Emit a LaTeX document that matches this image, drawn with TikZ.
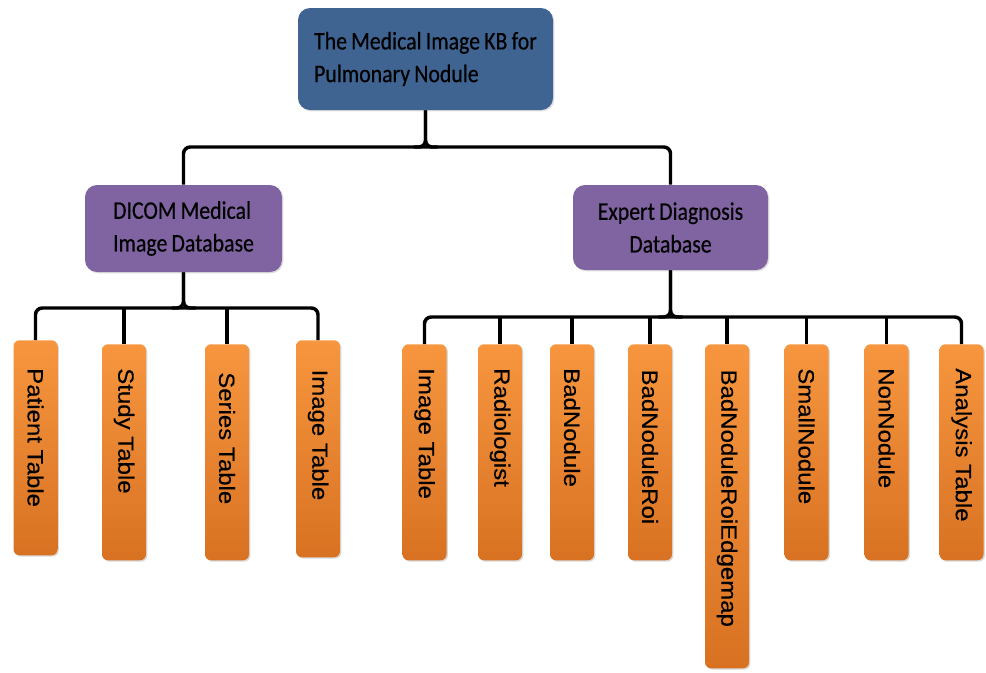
\documentclass[tikz,border=0pt]{standalone}
\usepackage{fontspec}
\setmainfont{Carlito}
\newfontfamily\hdfont[FakeStretch=0.86,FakeBold=0.4,WordSpace=0.85]{Carlito}
\newfontfamily\boxfont[FakeStretch=1.09,FakeBold=0.4]{Liberation Sans}
\usetikzlibrary{shadows}
\definecolor{kbblue}{HTML}{3F6491}
\definecolor{kbpurple}{HTML}{8064A2}
\definecolor{ortop}{HTML}{F7963F}
\definecolor{orbot}{HTML}{D87222}
\begin{document}
\begin{tikzpicture}[x=0.75pt,y=-0.75pt,
  conn/.style={line width=2.6pt, black, rounded corners=5pt},
  headbox/.style={rounded corners=9pt, text=black,
    font=\hdfont\fontsize{19}{24.5}\selectfont,
    drop shadow={opacity=0.25, shadow xshift=1pt, shadow yshift=-1pt}},
  leaf/.style={rounded corners=4.5pt, top color=ortop, bottom color=orbot,
    minimum width=33pt, inner sep=0pt, anchor=north,
    drop shadow={opacity=0.3, shadow xshift=1pt, shadow yshift=-1pt}},
  leaftext/.style={font=\boxfont\fontsize{16.5}{20}\selectfont, text=black,
    rotate=-90, anchor=west, inner sep=0pt}
]
\useasboundingbox (0,0) rectangle (986,672);

% top level
\node[headbox, fill=kbblue, minimum width=191.25pt, minimum height=76.5pt,
  align=left]
  (top) at (425.5,59) {The Medical Image KB for\\Pulmonary Nodule};

\node[headbox, fill=kbpurple, minimum width=147.75pt, minimum height=65.25pt,
  align=left]
  (dicom) at (183.5,228.5) {DICOM Medical\\Image Database};

\node[headbox, fill=kbpurple, minimum width=146.25pt, minimum height=63.75pt,
  align=center]
  (expert) at (670.5,227.5) {Expert Diagnosis\\Database};

% leaves left
\node[leaf, minimum height=161.25pt] (p1) at (35.5,340) {};
\node[leaf, minimum height=162pt] (p2) at (124,344) {};
\node[leaf, minimum height=162pt] (p3) at (227,344) {};
\node[leaf, minimum height=162.75pt] (p4) at (318,340) {};

% leaves right
\node[leaf, minimum height=162pt] (r1) at (424.5,344) {};
\node[leaf, minimum height=162pt] (r2) at (500,344) {};
\node[leaf, minimum height=162pt] (r3) at (572,344) {};
\node[leaf, minimum height=162pt] (r4) at (650,344) {};
\node[leaf, minimum height=243pt] (r5) at (727,344) {};
\node[leaf, minimum height=162pt] (r6) at (806.5,344) {};
\node[leaf, minimum height=162pt] (r7) at (886.5,344) {};
\node[leaf, minimum height=162pt] (r8) at (961.5,344) {};

% leaf texts
\node[leaftext] (tp1) at ([yshift=-21pt]p1.north) {Patient Table};
\node[leaftext] (tp2) at ([yshift=-18pt]p2.north) {Study Table};
\node[leaftext] (tp3) at ([yshift=-21pt]p3.north) {Series Table};
\node[leaftext] (tp4) at ([yshift=-22pt]p4.north) {Image Table};
\node[leaftext] (tr1) at ([yshift=-18pt]r1.north) {Image Table};
\node[leaftext] (tr2) at ([yshift=-18pt]r2.north) {Radiologist};
\node[leaftext] (tr3) at ([yshift=-18pt]r3.north) {BadNodule};
\node[leaftext] (tr4) at ([yshift=-19pt]r4.north) {BadNoduleRoi};
\node[leaftext] (tr5) at ([yshift=-19pt]r5.north) {BadNoduleRoiEdgemap};
\node[leaftext] (tr6) at ([yshift=-18pt]r6.north) {SmallNodule};
\node[leaftext] (tr7) at ([yshift=-18pt]r7.north) {NonNodule};
\node[leaftext] (tr8) at ([yshift=-18pt]r8.north) {Analysis Table};

% junction levels
\coordinate (j1) at (0,147);
\coordinate (j2) at (0,308);
\coordinate (j3) at (0,317);

% top connectors
\draw[conn] (dicom.north) |- (expert.north |- j1) -- (expert.north);
\draw[conn] (top.south) -- (top.south |- j1) -- ++(-12,0);
\draw[conn] (top.south) -- (top.south |- j1) -- ++(12,0);

% left connectors
\draw[conn] (p1.north) |- (p4.north |- j2) -- (p4.north);
\foreach \n in {p2,p3} \draw[conn] (\n.north) -- (\n.north |- j2);
\draw[conn] (dicom.south) -- (dicom.south |- j2) -- ++(-12,0);
\draw[conn] (dicom.south) -- (dicom.south |- j2) -- ++(12,0);

% right connectors
\draw[conn] (r1.north) |- (r8.north |- j3) -- (r8.north);
\foreach \n in {r2,r3,r4,r5,r6,r7} \draw[conn] (\n.north) -- (\n.north |- j3);
\draw[conn] (expert.south) -- (expert.south |- j3) -- ++(-12,0);
\draw[conn] (expert.south) -- (expert.south |- j3) -- ++(12,0);
\end{tikzpicture}
\end{document}
